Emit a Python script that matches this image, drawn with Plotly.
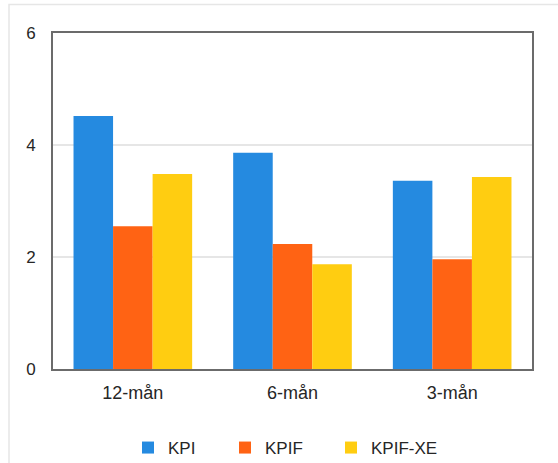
import plotly.graph_objects as go

categories = ["12-mån", "6-mån", "3-mån"]
kpi = [4.52, 3.86, 3.36]
kpif = [2.55, 2.23, 1.96]
kpif_xe = [3.48, 1.87, 3.43]
y_ticks = [0, 2, 4, 6]

W, H = 558, 463
L, R, T, B = 53, 26, 33, 94
pw, ph = W - L - R, H - T - B

family = "Liberation Sans, Arial, sans-serif"
txt = "#262626"

fig = go.Figure()
for name, vals, col, lw in [("KPI", kpi, "#258ae0", 52),
                            ("KPIF", kpif, "#ff6314", 61),
                            ("KPIF-XE", kpif_xe, "#ffcd11", 80)]:
    fig.add_trace(go.Bar(x=categories, y=vals, name=name, legendwidth=lw,
                         marker=dict(color=col, line=dict(width=0))))

# light outer frame around the whole chart box
fig.add_shape(type="rect", xref="paper", yref="paper",
              x0=(9 - L) / pw, x1=(W + 20 - L) / pw,
              y0=-(H + 20 - T - ph) / ph, y1=(T + ph - 4.5) / ph,
              line=dict(color="#e6e6e6", width=1.5), layer="below")

fig.update_layout(
    width=W, height=H,
    margin=dict(l=L, r=R, t=T, b=B, autoexpand=False),
    paper_bgcolor="white", plot_bgcolor="white",
    barmode="group", bargap=0.257, bargroupgap=0,
    font=dict(family=family, size=17, color=txt),
    showlegend=True,
    legend=dict(orientation="h", xanchor="left", x=(128 - L) / pw,
                yanchor="middle", y=-(448 - T - ph) / ph,
                font=dict(family=family, size=17, color=txt), itemwidth=30),
)
fig.update_xaxes(showline=True, mirror=True, linecolor="#6b6b6b", linewidth=2,
                 showgrid=False, ticks="outside", ticklen=6, tickcolor="rgba(0,0,0,0)",
                 tickfont=dict(size=18))
fig.update_yaxes(range=[0, 6], tickvals=y_ticks, showline=True, mirror=True,
                 linecolor="#6b6b6b", linewidth=2, gridcolor="#e6e6e6", gridwidth=2,
                 zeroline=False, ticks="outside", ticklen=12, tickcolor="rgba(0,0,0,0)")

fig.write_html("out.html")
